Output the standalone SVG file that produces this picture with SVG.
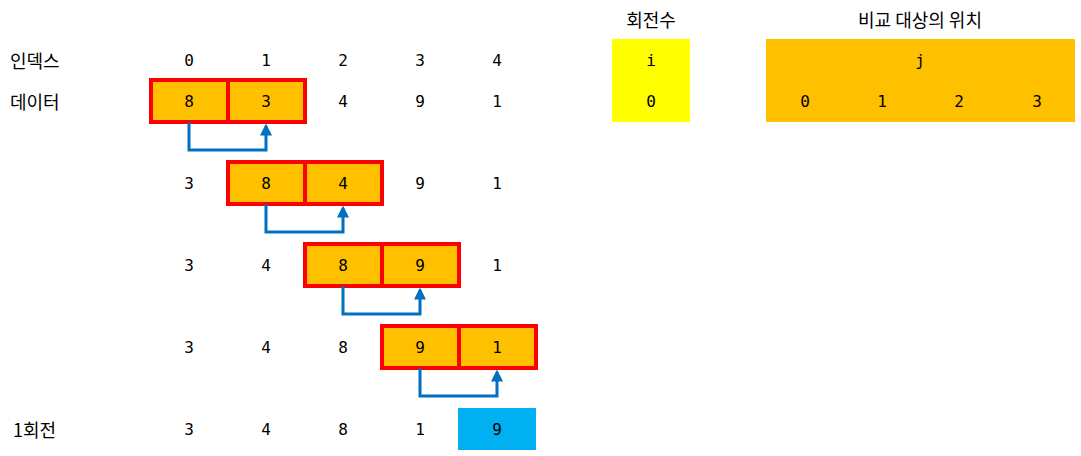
<svg xmlns="http://www.w3.org/2000/svg" width="1081" height="456" viewBox="0 0 1081 456">
<defs>
<style>
text{font-family:"DejaVu Sans Mono","Noto Sans CJK KR",monospace;font-size:16px;fill:#000;dominant-baseline:central}
.c{text-anchor:middle}
.lbl{font-family:"Noto Sans CJK KR","DejaVu Sans",sans-serif;font-size:18px}
.cell{fill:#FFC000;stroke:#FF0000;stroke-width:4}
.conn{fill:none;stroke:#0070C0;stroke-width:3}
</style>
<marker id="ah" viewBox="0 0 10 10" refX="8" refY="5" markerWidth="4" markerHeight="4" orient="auto" markerUnits="strokeWidth">
<path d="M0,0 L10,5 L0,10 z" fill="#0070C0"/>
</marker>
</defs>
<rect width="1081" height="456" fill="#fff"/>
<g id="headers">
<text class="c lbl" x="651" y="19">회전수</text>
<text class="c lbl" x="920" y="19">비교 대상의 위치</text>
</g>
<g id="row-labels">
<text class="lbl" x="10" y="60">인덱스</text>
<text class="lbl" x="10" y="101">데이터</text>
<text class="lbl" x="13" y="429">1회전</text>
</g>
<g id="index-row">
<text class="c" x="189" y="60">0</text>
<text class="c" x="266" y="60">1</text>
<text class="c" x="343" y="60">2</text>
<text class="c" x="420" y="60">3</text>
<text class="c" x="497" y="60">4</text>
</g>
<g id="row1">
<rect class="cell" x="151" y="80" width="77" height="42"/>
<rect class="cell" x="228" y="80" width="77" height="42"/>
<text class="c" x="189" y="101">8</text>
<text class="c" x="266" y="101">3</text>
<text class="c" x="343" y="101">4</text>
<text class="c" x="420" y="101">9</text>
<text class="c" x="497" y="101">1</text>
</g>
<g id="row2">
<rect class="cell" x="228" y="162" width="77" height="42"/>
<rect class="cell" x="305" y="162" width="77" height="42"/>
<text class="c" x="189" y="183">3</text>
<text class="c" x="266" y="183">8</text>
<text class="c" x="343" y="183">4</text>
<text class="c" x="420" y="183">9</text>
<text class="c" x="497" y="183">1</text>
</g>
<g id="row3">
<rect class="cell" x="305" y="244" width="77" height="42"/>
<rect class="cell" x="382" y="244" width="77" height="42"/>
<text class="c" x="189" y="265">3</text>
<text class="c" x="266" y="265">4</text>
<text class="c" x="343" y="265">8</text>
<text class="c" x="420" y="265">9</text>
<text class="c" x="497" y="265">1</text>
</g>
<g id="row4">
<rect class="cell" x="382" y="326" width="77" height="42"/>
<rect class="cell" x="459" y="326" width="77" height="42"/>
<text class="c" x="189" y="347">3</text>
<text class="c" x="266" y="347">4</text>
<text class="c" x="343" y="347">8</text>
<text class="c" x="420" y="347">9</text>
<text class="c" x="497" y="347">1</text>
</g>
<g id="result">
<rect x="458" y="408" width="78" height="42" fill="#00B0F0"/>
<text class="c" x="189" y="429">3</text>
<text class="c" x="266" y="429">4</text>
<text class="c" x="343" y="429">8</text>
<text class="c" x="420" y="429">1</text>
<text class="c" x="497" y="429">9</text>
</g>
<g id="round-table">
<rect x="612" y="39" width="78" height="83" fill="#FFFF00"/>
<text class="c" x="651" y="60">i</text>
<text class="c" x="651" y="101">0</text>
</g>
<g id="position-table">
<rect x="766" y="39" width="309" height="83" fill="#FFC000"/>
<text class="c" x="920" y="60">j</text>
<text class="c" x="805" y="101">0</text>
<text class="c" x="882" y="101">1</text>
<text class="c" x="959" y="101">2</text>
<text class="c" x="1037" y="101">3</text>
</g>
<g id="connectors">
<path class="conn" d="M189,122 V150 H266 V126" marker-end="url(#ah)"/>
<path class="conn" d="M266,204 V232 H343 V208" marker-end="url(#ah)"/>
<path class="conn" d="M343,286 V314 H420 V290" marker-end="url(#ah)"/>
<path class="conn" d="M420,368 V396 H497 V372" marker-end="url(#ah)"/>
</g>
</svg>
